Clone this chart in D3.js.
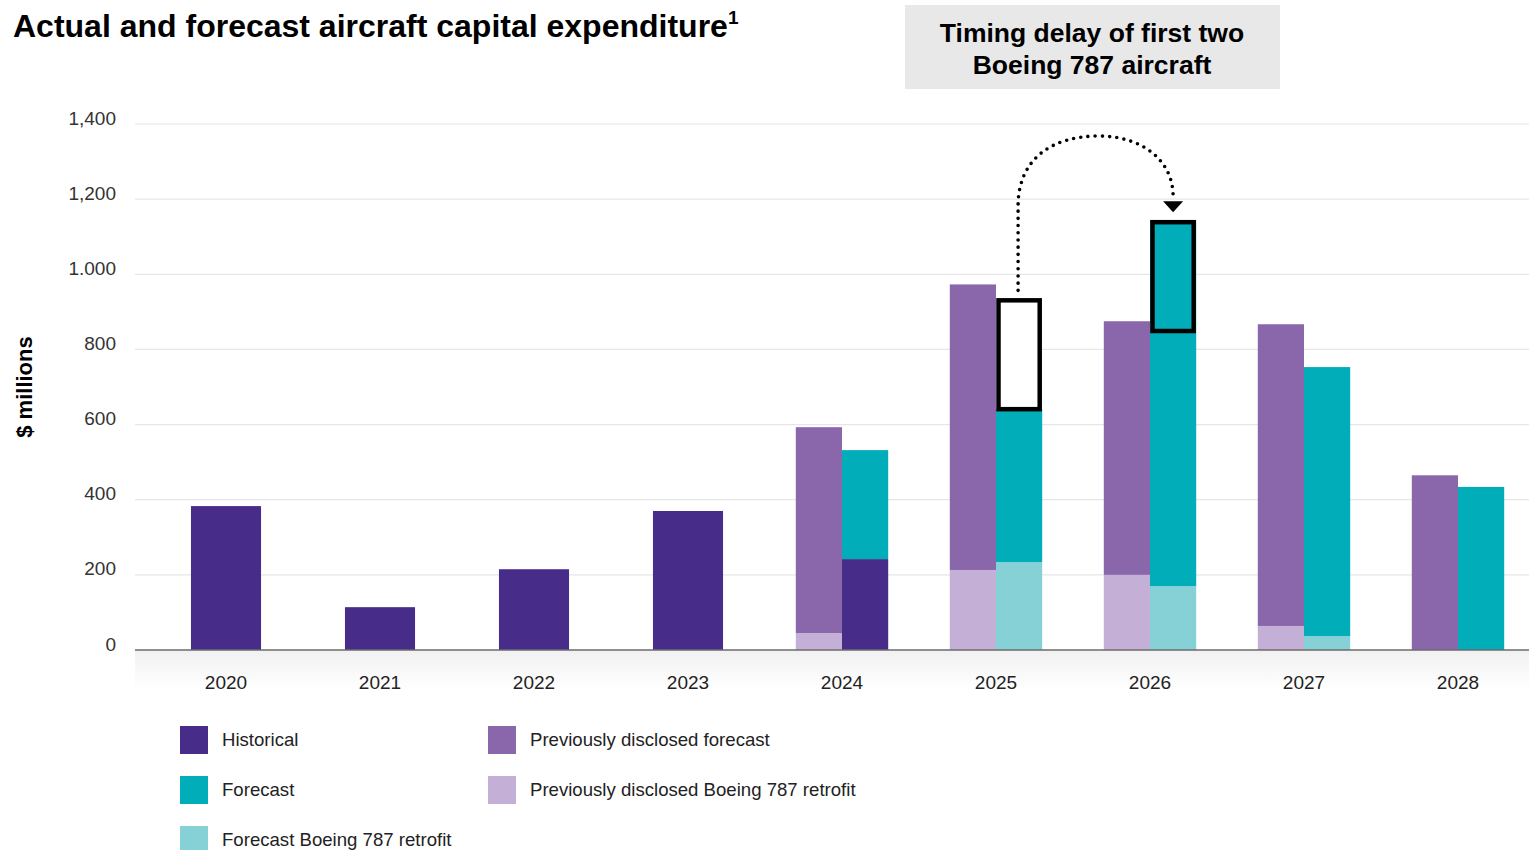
<!DOCTYPE html>
<html>
<head>
<meta charset="utf-8">
<script src="https://cdn.jsdelivr.net/npm/d3@7"></script>
<style>
  html, body { margin: 0; padding: 0; background: #fff; }
  svg { display: block; }
</style>
</head>
<body>
<svg id="chart" width="1529" height="850"></svg>
<script>
// ---- data ----
const years = ["2020","2021","2022","2023","2024","2025","2026","2027","2028"];
const historical       = [383, 114, 215, 370, 242, 0, 0, 0, 0];
const prevRetrofit     = [0, 0, 0, 0, 45, 213, 200, 64, 0];
const prevForecast     = [0, 0, 0, 0, 548, 760, 675, 803, 465];
const forecastRetrofit = [0, 0, 0, 0, 0, 234, 170, 37, 0];
const forecast         = [0, 0, 0, 0, 290, 407, 974, 716, 434];
const delayYears = ["2025", "2026"];
const delayAmount = 295;
const yTicks = [0, 200, 400, 600, 800, 1000, 1200, 1400];
const yTickLabels = ["0", "200", "400", "600", "800", "1.000", "1,200", "1,400"];
const legendItems = [
  ["Historical", "#472c89"],
  ["Forecast", "#00adb8"],
  ["Forecast Boeing 787 retrofit", "#86d1d6"],
  ["Previously disclosed forecast", "#8a66ab"],
  ["Previously disclosed Boeing 787 retrofit", "#c4b0d6"]
];
const colors = {
  historical: "#472c89",
  prevForecast: "#8a66ab",
  forecast: "#00adb8",
  prevRetrofit: "#c4b0d6",
  forecastRetrofit: "#86d1d6"
};

const svg = d3.select("#chart");
const FONT = "'Liberation Sans', Arial, sans-serif";

const x = d3.scaleBand().domain(years).range([149, 1535]).padding(0);
const y = d3.scaleLinear().domain([0, 1400]).range([650, 124]);
const bw = x.bandwidth();
const singleW = bw * 0.455;
const pairW = bw * 0.30;

// defs
const defs = svg.append("defs");
const grad = defs.append("linearGradient").attr("id", "shade").attr("x1", 0).attr("y1", 0).attr("x2", 0).attr("y2", 1);
grad.append("stop").attr("offset", "0%").attr("stop-color", "#f1f1f1");
grad.append("stop").attr("offset", "100%").attr("stop-color", "#ffffff");

// shade band under axis
svg.append("rect").attr("x", 135).attr("y", y(0)).attr("width", 1394).attr("height", 40).attr("fill", "url(#shade)");

// gridlines
svg.append("g").selectAll("line").data(yTicks.filter(d => d > 0)).join("line")
  .attr("x1", 135).attr("x2", 1529)
  .attr("y1", d => y(d)).attr("y2", d => y(d))
  .attr("stroke", "#e6e6e6").attr("stroke-width", 1.2);

// y axis labels
const yAxis = d3.axisLeft(y).tickValues(yTicks).tickSize(0).tickPadding(0)
  .tickFormat((d, i) => yTickLabels[i]);
svg.append("g").attr("transform", "translate(116,-6)").call(yAxis)
  .call(g => g.select(".domain").remove())
  .selectAll("text").attr("font-family", FONT).attr("font-size", 19).attr("fill", "#333");

// y title
svg.append("text").attr("transform", "translate(32,387) rotate(-90)")
  .attr("text-anchor", "middle").attr("font-family", FONT).attr("font-weight", "bold")
  .attr("font-size", 22).attr("fill", "#000").text("$ millions");

// bars
const bars = svg.append("g");
function seg(xPos, w, v0, v1, color) {
  if (v1 - v0 <= 0) return;
  bars.append("rect").attr("x", xPos).attr("width", w)
    .attr("y", y(v1)).attr("height", y(v0) - y(v1)).attr("fill", color);
}
years.forEach((yr, i) => {
  const cx = x(yr) + bw / 2;
  const isPair = prevForecast[i] + prevRetrofit[i] > 0;
  if (!isPair) {
    seg(cx - singleW / 2, singleW, 0, historical[i], colors.historical);
  } else {
    const lx = cx - pairW, rx = cx;
    seg(lx, pairW, 0, prevRetrofit[i], colors.prevRetrofit);
    seg(lx, pairW, prevRetrofit[i], prevRetrofit[i] + prevForecast[i], colors.prevForecast);
    let b = 0;
    seg(rx, pairW, b, b + historical[i], colors.historical); b += historical[i];
    seg(rx, pairW, b, b + forecastRetrofit[i], colors.forecastRetrofit); b += forecastRetrofit[i];
    seg(rx, pairW, b, b + forecast[i], colors.forecast); b += forecast[i];
  }
});

// baseline
svg.append("line").attr("x1", 135).attr("x2", 1529).attr("y1", y(0)).attr("y2", y(0))
  .attr("stroke", "#6b6b6b").attr("stroke-width", 1.5);

// x axis labels
const xAxis = d3.axisBottom(x).tickSize(0).tickPadding(0);
svg.append("g").attr("transform", `translate(0,${y(0) + 25})`).call(xAxis)
  .call(g => g.select(".domain").remove())
  .selectAll("text").attr("font-family", FONT).attr("font-size", 19).attr("fill", "#222");

// delay boxes
const tops = {};
delayYears.forEach((yr, k) => {
  const i = years.indexOf(yr);
  const total = forecastRetrofit[i] + forecast[i] + historical[i];
  const base = k === 0 ? total : total - delayAmount;
  const top = base + delayAmount;
  const bx = x(yr) + bw / 2;
  svg.append("rect").attr("x", bx + 2.5).attr("width", pairW - 5)
    .attr("y", y(top) + 2).attr("height", y(base) - y(top) - 2)
    .attr("fill", k === 0 ? "#fff" : "none").attr("stroke", "#000").attr("stroke-width", 4.5);
  tops[yr] = { cx: bx + pairW / 2, top: y(top) };
});

// dotted arrow
const a = tops["2025"], b2 = tops["2026"];
const peak = y(1368);
const midX = (a.cx + b2.cx) / 2 + 2;
const p = d3.path();
p.moveTo(a.cx - 1, a.top - 8);
p.lineTo(a.cx - 1, peak + 70);
p.bezierCurveTo(a.cx - 1, peak + 22, midX - 45, peak, midX, peak);
p.bezierCurveTo(midX + 45, peak, b2.cx, peak + 25, b2.cx, b2.top - 24);
svg.append("path").attr("d", p.toString()).attr("fill", "none")
  .attr("stroke", "#000").attr("stroke-width", 3.6).attr("stroke-linecap", "round")
  .attr("stroke-dasharray", "0,7.2");
svg.append("path")
  .attr("d", `M${b2.cx - 10},${b2.top - 19} L${b2.cx + 10},${b2.top - 19} L${b2.cx},${b2.top - 8} Z`)
  .attr("fill", "#000");

// annotation box
svg.append("rect").attr("x", 905).attr("y", 5).attr("width", 375).attr("height", 84).attr("fill", "#e8e8e8");
svg.append("text").attr("x", 1092).attr("y", 42).attr("text-anchor", "middle")
  .attr("font-family", FONT).attr("font-weight", "bold").attr("font-size", 26.5).attr("fill", "#000")
  .text("Timing delay of first two");
svg.append("text").attr("x", 1092).attr("y", 74).attr("text-anchor", "middle")
  .attr("font-family", FONT).attr("font-weight", "bold").attr("font-size", 26.5).attr("fill", "#000")
  .text("Boeing 787 aircraft");

// title
const t = svg.append("text").attr("x", 13).attr("y", 37)
  .attr("font-family", FONT).attr("font-weight", "bold").attr("font-size", 32).attr("fill", "#000");
t.append("tspan").text("Actual and forecast aircraft capital expenditure");
t.append("tspan").attr("font-size", 19).attr("dy", -13).text("1");

// legend
const lg = svg.append("g");
legendItems.forEach((d, i) => {
  const col = i < 3 ? 0 : 1;
  const row = i < 3 ? i : i - 3;
  const lx = col === 0 ? 180 : 488;
  const ly = 726 + row * 50;
  lg.append("rect").attr("x", lx).attr("y", ly).attr("width", 28).attr("height", 28).attr("fill", d[1]);
  lg.append("text").attr("x", lx + 42).attr("y", ly + 20)
    .attr("font-family", FONT).attr("font-size", 18.6).attr("fill", "#222").text(d[0]);
});
</script>
</body>
</html>
